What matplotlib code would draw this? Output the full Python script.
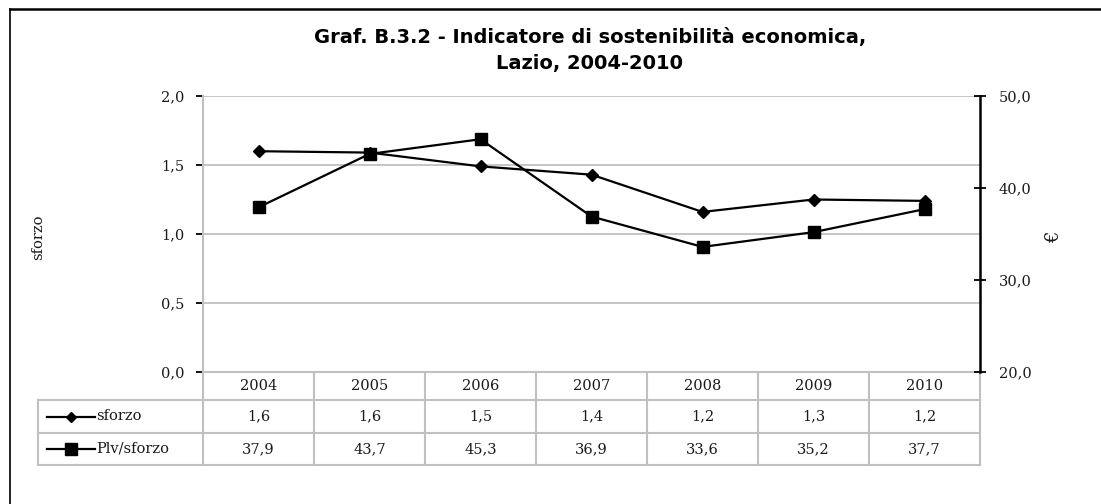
import matplotlib
matplotlib.use("Agg")
import matplotlib.pyplot as plt
from matplotlib.lines import Line2D
from matplotlib.ticker import FuncFormatter
import matplotlib.transforms as mtransforms

years = ["2004", "2005", "2006", "2007", "2008", "2009", "2010"]
sforzo = [1.60, 1.59, 1.49, 1.43, 1.16, 1.25, 1.24]
sforzo_lbl = ["1,6", "1,6", "1,5", "1,4", "1,2", "1,3", "1,2"]
plv = [37.9, 43.7, 45.3, 36.9, 33.6, 35.2, 37.7]
plv_lbl = ["37,9", "43,7", "45,3", "36,9", "33,6", "35,2", "37,7"]
left_ticks = [0.0, 0.5, 1.0, 1.5, 2.0]
right_ticks = [20, 30, 40, 50]

SERIF = "DejaVu Serif"
FS = 10.5
TXT = "#1a1a1a"
GRID = "#c0c0c0"
W, H = 1101, 504

fig = plt.figure(figsize=(W / 100, H / 100), dpi=100)
x0, x1, ytop, ybot = 203, 980, 96, 372
ax = fig.add_axes([x0 / W, 1 - ybot / H, (x1 - x0) / W, (ybot - ytop) / H])
ax.set_xlim(-0.5, len(years) - 0.5)
ax.set_ylim(0, 2)
ax2 = ax.twinx()
ax2.set_ylim(20, 50)

xs = list(range(len(years)))
ax.plot(xs, sforzo, color="black", lw=1.6, marker="D", ms=6.5, zorder=5, clip_on=False)
ax2.plot(xs, plv, color="black", lw=1.6, marker="s", ms=9, zorder=5, clip_on=False)

for y in left_ticks:
    ax.axhline(y, color=GRID, lw=1.3, zorder=0)

ax.set_xticks([])
ax.set_yticks(left_ticks)
ax.yaxis.set_major_formatter(FuncFormatter(lambda v, p: f"{v:.1f}".replace(".", ",")))
ax.tick_params(axis="y", direction="out", length=5, width=1.3, color="black", pad=8.5,
               labelsize=FS, labelcolor=TXT)
for lab in ax.get_yticklabels():
    lab.set_fontfamily(SERIF)
for s in ["top", "bottom"]:
    ax.spines[s].set_visible(False)
ax.spines["left"].set_color(GRID)
ax.spines["left"].set_linewidth(1.5)
ax.spines["right"].set_visible(False)

ax2.set_yticks(right_ticks)
ax2.yaxis.set_major_formatter(FuncFormatter(lambda v, p: f"{v:.1f}".replace(".", ",")))
ax2.tick_params(axis="y", direction="inout", length=9, width=1.3, color="black", pad=9,
                labelsize=FS, labelcolor=TXT)
for lab in ax2.get_yticklabels():
    lab.set_fontfamily(SERIF)
for s in ["top", "bottom", "left"]:
    ax2.spines[s].set_visible(False)
ax2.spines["right"].set_color("black")
ax2.spines["right"].set_linewidth(1.8)

# axis labels
fig.text(38 / W, 1 - 237 / H, "sforzo", rotation=90, ha="center", va="center",
         fontsize=FS, family=SERIF, color=TXT)
fig.text(1054 / W, 1 - 237 / H, "€", rotation=90, ha="center", va="center",
         fontsize=13, family=SERIF, color=TXT)

# title
TFONT = dict(ha="center", va="center", fontsize=14, fontweight="bold", family="DejaVu Sans")
fig.text(590 / W, 1 - 37 / H, "Graf. B.3.2 - Indicatore di sostenibilità economica,", **TFONT)
fig.text(590 / W, 1 - 63 / H, "Lazio, 2004-2010", **TFONT)

# data table below the axes (x in data units, y in axes fraction)
trans = mtransforms.blended_transform_factory(ax.transData, ax.transAxes)
ph = ybot - ytop
r1, r2, r3 = -28 / ph, -61 / ph, -93 / ph
unit = (x1 - x0) / len(years)
xl = -0.5 - (x0 - 38) / unit
xr = len(years) - 0.5
tl = dict(color=GRID, lw=1.5, transform=trans, clip_on=False)
ax.add_line(Line2D([-0.5, xr], [0, 0], **tl))
for yy in (r1, r2, r3):
    ax.add_line(Line2D([xl, xr], [yy, yy], **tl))
for i in range(len(years) + 1):
    ax.add_line(Line2D([i - 0.5, i - 0.5], [0, r3], **tl))
ax.add_line(Line2D([xl, xl], [r1, r3], **tl))

cell = dict(transform=trans, ha="center", va="center", fontsize=FS, family=SERIF, color=TXT)
for i in range(len(years)):
    ax.text(i, r1 / 2, years[i], **cell)
    ax.text(i, (r1 + r2) / 2, sforzo_lbl[i], **cell)
    ax.text(i, (r2 + r3) / 2, plv_lbl[i], **cell)

# legend keys in table
k0 = xl + 9 / unit
k1 = xl + 57 / unit
km = (k0 + k1) / 2
ya, yb = (r1 + r2) / 2, (r2 + r3) / 2
ax.add_line(Line2D([k0, k1], [ya, ya], color="black", lw=1.6, transform=trans, clip_on=False))
ax.add_line(Line2D([km], [ya], color="black", marker="D", ms=5.5, transform=trans, clip_on=False))
ax.add_line(Line2D([k0, k1], [yb, yb], color="black", lw=1.6, transform=trans, clip_on=False))
ax.add_line(Line2D([km], [yb], color="black", marker="s", ms=8, transform=trans, clip_on=False))
lab = dict(transform=trans, ha="left", va="center", fontsize=FS, family=SERIF, color=TXT)
ax.text(k1 + 1 / unit, ya, "sforzo", **lab)
ax.text(k1 + 1 / unit, yb, "Plv/sforzo", **lab)

# outer border (partially cropped)
fig.add_artist(Line2D([10 / W, 10 / W], [1 - 9 / H, 0], color="black", lw=1.2, transform=fig.transFigure))
fig.add_artist(Line2D([10 / W, 1], [1 - 9 / H, 1 - 9 / H], color="black", lw=1.8, transform=fig.transFigure))

fig.savefig("out.png", dpi=100)
